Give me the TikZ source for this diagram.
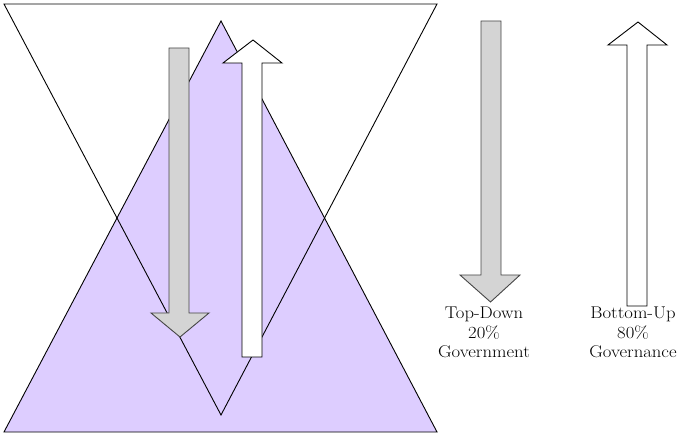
\documentclass[tikz,border=0pt]{standalone}
\usepackage{fontspec}
\newfontfamily\labelfont[FakeStretch=1.1]{Latin Modern Roman}
\begin{document}
\begin{tikzpicture}[x=1pt,y=-1pt,
  tri/.style={draw=black,line width=0.9pt,line join=miter},
  purpletri/.style={tri,fill=lavfill},
  downarrow/.style={draw=arrowedge,fill=arrowgray,line width=0.9pt},
  uparrow/.style={draw=black,fill=white,line width=0.9pt},
  label/.style={font=\labelfont\fontsize{17}{19.5}\selectfont,align=center,anchor=north,inner sep=0pt}]
\definecolor{lavfill}{RGB}{221,205,255}
\definecolor{arrowgray}{RGB}{212,212,212}
\definecolor{arrowedge}{RGB}{70,70,70}
\useasboundingbox (0,0) rectangle (677,435);
% upright purple triangle
\draw[purpletri] (4,432) -- (221,21) -- (437,432) -- cycle;
% inverted triangle outline
\draw[tri] (4,4) -- (437,4) -- (221,415) -- cycle;
% left gray down arrow
\draw[downarrow] (169,48) -- (189,48) -- (189,313) -- (209,313) -- (180,337) -- (151,313) -- (169,313) -- cycle;
% left white up arrow
\draw[uparrow] (242,357) -- (242,63) -- (223,63) -- (253,40) -- (282,63) -- (262,63) -- (262,357) -- cycle;
% right gray down arrow
\draw[downarrow] (481,21) -- (501,21) -- (501,275) -- (520,275) -- (490.5,302) -- (460,275) -- (481,275) -- cycle;
% right white up arrow
\draw[uparrow] (627,306) -- (627,45) -- (608,45) -- (638,22) -- (667,45) -- (647,45) -- (647,306) -- cycle;
% labels
\node[label] (topdown) at (484,307) {Top-Down\\20\%\\Government};
\node[label] (bottomup) at (633,307) {Bottom-Up\\80\%\\Governance};
\end{tikzpicture}
\end{document}
